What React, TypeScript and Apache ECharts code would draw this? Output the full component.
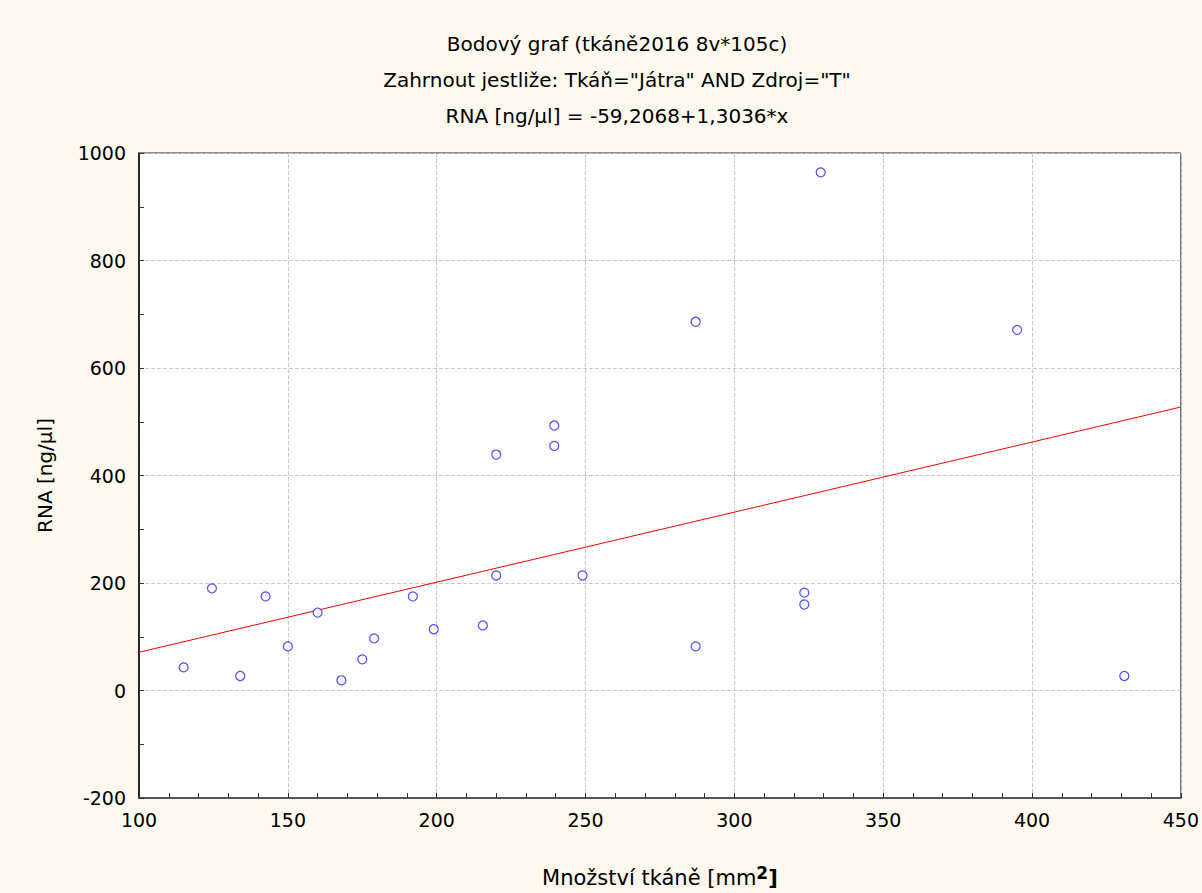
import React, { useEffect, useRef } from "react";
import * as echarts from "echarts";

const titleLines = [
  "Bodový graf (tkáně2016 8v*105c)",
  "Zahrnout jestliže: Tkáň=\"Játra\" AND Zdroj=\"T\"",
  "RNA [ng/µl] = -59,2068+1,3036*x",
];

const tissueAmount = [115, 124.5, 134, 142.5, 150, 160, 168, 175, 179, 192, 199, 215.5, 220, 220, 239.5, 239.5, 249, 287, 287, 329, 323.5, 323.5, 395, 431];
const rnaValues = [43, 190, 27, 175, 82, 145, 19, 58, 97, 175, 114, 121, 439, 214, 493, 455, 214, 686, 82, 964, 182, 160, 671, 27];

const intercept = -59.2068;
const slope = 1.3036;
const xRange = [100, 450];
const yRange = [-200, 1000];

export default function App() {
  const ref = useRef<HTMLDivElement>(null);
  useEffect(() => {
    if (!ref.current) return;
    const chart = echarts.init(ref.current, null, { renderer: "svg" });
    const points = tissueAmount.map((x, i) => [x, rnaValues[i]]);
    const fitLine = xRange.map((x) => [x, intercept + slope * x]);
    const font = "'DejaVu Sans', sans-serif";
    chart.setOption({
      animation: false,
      backgroundColor: "#fdf9ef",
      textStyle: { fontFamily: font },
      graphic: titleLines.map((t, i) => ({
        type: "text",
        x: 617,
        y: 44 + i * 36,
        style: {
          text: t,
          textAlign: "center",
          textVerticalAlign: "middle",
          font: `20px ${font}`,
          fill: "#000",
        },
      })),
      grid: {
        left: 139,
        right: 19,
        top: 153,
        bottom: 94,
        show: true,
        backgroundColor: "#ffffff",
        borderColor: "#222",
        borderWidth: 1,
      },
      xAxis: {
        type: "value",
        min: xRange[0],
        max: xRange[1],
        interval: 50,
        name: "Množství tkáně [mm{sup|2}{br|]}",
        nameLocation: "middle",
        nameGap: 66,
        nameTextStyle: {
          fontSize: 21,
          color: "#000",
          fontFamily: font,
          rich: {
            sup: { fontSize: 17, fontWeight: "bold", fontFamily: font, verticalAlign: "top", padding: [0, 0, 10, 0] },
            br: { fontSize: 21, fontWeight: "bold", fontFamily: font },
          },
        },
        axisLine: { onZero: false, lineStyle: { color: "#555", width: 2 } },
        axisTick: { inside: true, length: 5, lineStyle: { color: "#333" } },
        minorTick: { show: true, splitNumber: 5, length: 5, lineStyle: { color: "#333" } },
        axisLabel: { fontSize: 19, color: "#000", margin: 12, fontFamily: font },
        splitLine: { show: true, lineStyle: { color: "#c8c8c8", type: "dashed" } },
      },
      yAxis: {
        type: "value",
        min: yRange[0],
        max: yRange[1],
        interval: 200,
        name: "RNA [ng/µl]",
        nameLocation: "middle",
        nameGap: 84,
        nameRotate: 90,
        nameTextStyle: { fontSize: 20, color: "#000", fontFamily: font },
        axisLine: { onZero: false, lineStyle: { color: "#000", width: 1.5 } },
        axisTick: { inside: true, length: 5, lineStyle: { color: "#333" } },
        minorTick: { show: true, splitNumber: 2, length: 5, lineStyle: { color: "#333" } },
        axisLabel: { fontSize: 19, color: "#000", margin: 13, fontFamily: font, formatter: (v: number) => String(v) },
        splitLine: { show: true, lineStyle: { color: "#c8c8c8", type: "dashed" } },
      },
      series: [
        {
          type: "line",
          data: fitLine,
          symbol: "none",
          lineStyle: { color: "#ff0000", width: 1 },
          z: 2,
        },
        {
          type: "scatter",
          data: points,
          symbol: "circle",
          symbolSize: 9,
          itemStyle: { color: "#ffffff", borderColor: "#2222ff", borderWidth: 1.2 },
          z: 3,
        },
      ],
    });
    return () => chart.dispose();
  }, []);
  return <div ref={ref} style={{ width: 1202, height: 893, position: "absolute", left: 0, top: 0 }} />;
}
